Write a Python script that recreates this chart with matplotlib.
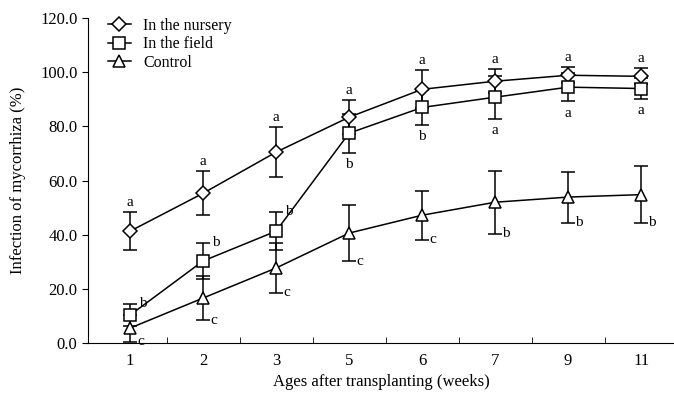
import numpy as np
import matplotlib
matplotlib.use("Agg")
import matplotlib.pyplot as plt

weeks = ["1", "2", "3", "5", "6", "7", "9", "11"]

nursery = [41.3, 55.3, 70.5, 83.4, 93.7, 96.7, 98.9, 98.5]
nursery_err = [7.0, 8.2, 9.2, 6.3, 7.0, 4.5, 3.0, 3.0]
nursery_lab = ["a"] * 8

field = [10.3, 30.3, 41.3, 77.5, 87.0, 90.8, 94.5, 94.0]
field_err = [4.0, 6.5, 7.0, 7.2, 6.4, 8.0, 5.2, 3.8]
field_lab = ["b", "b", "b", "b", "b", "a", "a", "a"]

control = [5.5, 16.6, 27.7, 40.6, 47.2, 52.0, 53.9, 54.8]
control_err = [5.0, 8.2, 9.2, 10.4, 9.0, 11.6, 9.4, 10.4]
control_lab = ["c", "c", "c", "c", "c", "b", "b", "b"]

series_names = ["In the nursery", "In the field", "Control"]

plt.rcParams['font.family'] = ['Liberation Serif', 'DejaVu Serif']
plt.rcParams['font.size'] = 12

fig = plt.figure(figsize=(6.74, 3.94), dpi=100)
ax = fig.add_axes([0.1306, 0.1294, 0.8694, 0.8246])
x = np.arange(len(weeks))

style = dict(color="black", lw=1.1, mfc="white", mec="black", mew=1.1,
             ecolor="black", elinewidth=1.1, capsize=5, capthick=1.1)
e1 = ax.errorbar(x, nursery, yerr=nursery_err, marker="D", ms=7, zorder=3, **style)
e2 = ax.errorbar(x, field, yerr=field_err, marker="s", ms=9, zorder=3, **style)
e3 = ax.errorbar(x, control, yerr=control_err, marker="^", ms=9, zorder=3, **style)

# significance letters
fs = 11
for i in range(len(x)):
    ax.text(x[i], nursery[i] + nursery_err[i] + 1.2, nursery_lab[i], ha="center", va="bottom", fontsize=fs)
    if i < 3:
        ax.text(x[i] + 0.12, field[i] + field_err[i] - 2, field_lab[i], ha="left", va="bottom", fontsize=fs)
    else:
        ax.text(x[i], field[i] - field_err[i] - 2.0, field_lab[i], ha="center", va="top", fontsize=fs)
    ax.text(x[i] + 0.1, control[i] - control_err[i], control_lab[i], ha="left", va="center", fontsize=fs)

ax.set_xlim(-0.575, 7.45)
ax.set_ylim(0, 120)
ax.set_xticks(x)
ax.set_xticklabels(weeks)
ax.set_xticks(x[:-1] + 0.5, minor=True)
ax.tick_params(axis="x", which="major", length=0, pad=7)
ax.tick_params(axis="x", which="minor", direction="in", length=4)
ax.tick_params(axis="y", direction="out", length=4)
ax.set_yticks(np.arange(0, 121, 20))
ax.set_yticklabels(["%.1f" % v for v in np.arange(0, 121, 20)])
ax.spines["top"].set_visible(False)
ax.spines["right"].set_visible(False)
ax.spines["bottom"].set_bounds(-0.6, 7.45)
ax.set_ylabel("Infection of mycorrhiza (%)", labelpad=10)
ax.set_xlabel("Ages after transplanting (weeks)", labelpad=4)
ax.legend([e1.lines[0], e2.lines[0], e3.lines[0]], series_names, loc="upper left", frameon=False,
          fontsize=11.5, handlelength=1.4, handletextpad=0.8,
          labelspacing=0.15, borderaxespad=0.2, bbox_to_anchor=(0.018, 1.03))

fig.savefig("out.png", dpi=100)
